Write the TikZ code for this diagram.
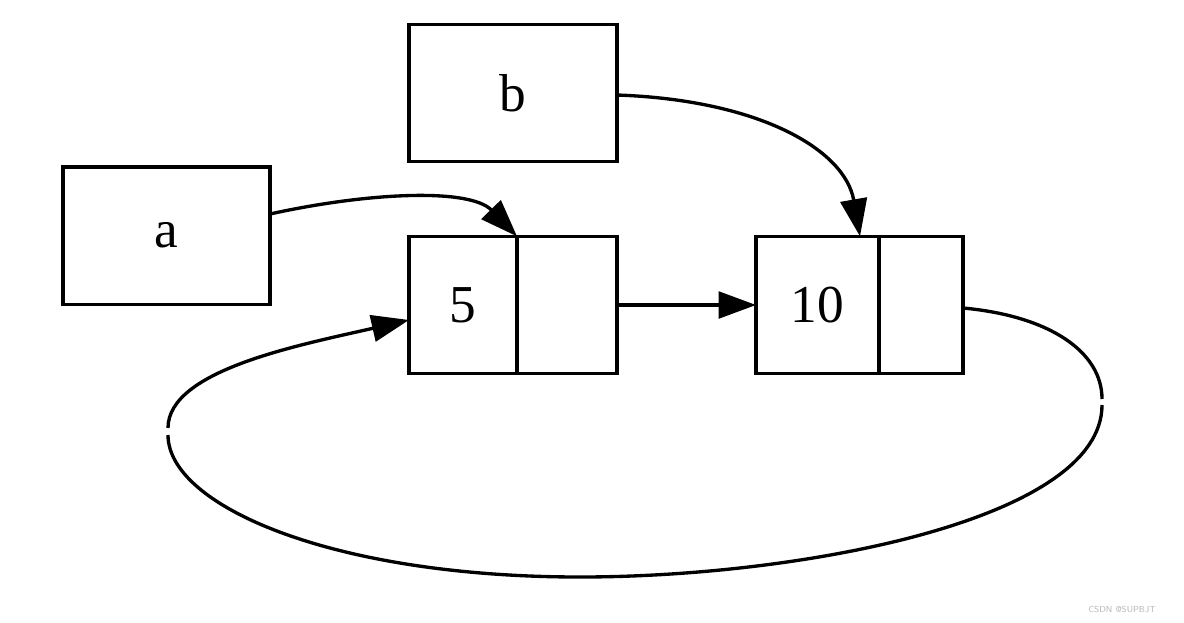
\documentclass[tikz,border=0pt]{standalone}
\usepackage{fontspec}
\setmainfont{Liberation Serif}
\usetikzlibrary{arrows.meta}
\begin{document}
\begin{tikzpicture}[x=0.75pt,y=-0.75pt,
  box/.style={draw,line width=2.5pt,inner sep=0pt,outer sep=0pt,font=\fontsize{40}{48}\selectfont,minimum height=103pt},
  link/.style={line width=2.5pt,-{Triangle[length=28pt,width=20pt]}},
  plain/.style={line width=2.5pt}]
\useasboundingbox (0,0) rectangle (1184,622);
\fill[white] (0,0) rectangle (1184,622);
\node[box,minimum width=155.25pt] (a) at (166.5,235.5) {a};
\node[box,minimum width=156pt] (b) at (513,93) {b};
\node[box,minimum width=81pt] (n5a) at (463,305) {5};
\node[box,minimum width=75pt] (n5b) at (567,305) {};
\node[box,minimum width=92.25pt] (n10a) at (817.5,305) {10};
\node[box,minimum width=63pt] (n10b) at (921,305) {};
\coordinate (g1) at (1102,399);
\coordinate (g2) at (1102,405);
\coordinate (g3) at (168,435);
\coordinate (g4) at (168,428);
\draw[link] (a.east |- 0,214) .. controls (370,192) and (470,188) .. (n5a.north east);
\draw[link] (b.east |- 0,95) .. controls (760,100) and (845,150) .. (n10a.north -| 860,0);
\draw[link] (n5b.east) -- (n10a.west);
\draw[plain] (n10b.east |- 0,308) .. controls (1050,316) and (1102,352) .. (g1);
\draw[plain] (g2) .. controls (1102,520) and (800,577) .. (580,577) .. controls (330,577) and (168,505) .. (g3);
\draw[link] (g4) .. controls (168,370) and (300,345) .. (n5a.west |- 0,320);
\node[text=gray!55,font=\sffamily\fontsize{6.5}{8}\selectfont] (wm) at (1122,609) {CSDN @SUPBJT};
\end{tikzpicture}
\end{document}
